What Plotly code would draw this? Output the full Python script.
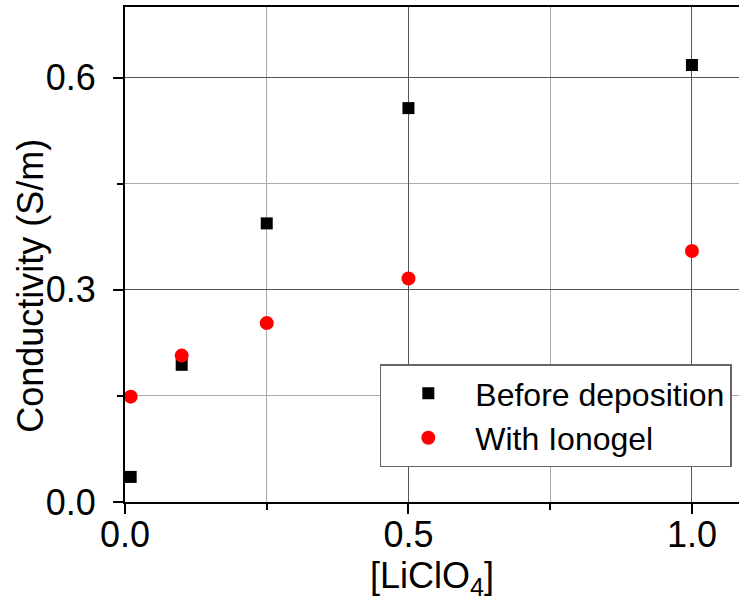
import plotly.graph_objects as go

x_conc = [0.01, 0.1, 0.25, 0.5, 1.0]
before_deposition = [0.0355, 0.194, 0.394, 0.557, 0.618]
with_ionogel = [0.149, 0.207, 0.253, 0.316, 0.355]

x_title = "[LiClO<sub>4</sub>]"
y_title = "Conductivity (S/m)"
names = ["Before deposition", "With Ionogel"]

FONT = "Liberation Sans, Arial, sans-serif"

fig = go.Figure()
fig.add_trace(go.Scatter(x=x_conc, y=before_deposition, mode="markers", name=names[0],
                         marker=dict(symbol="square", size=12, color="black", line=dict(width=0))))
fig.add_trace(go.Scatter(x=x_conc, y=with_ionogel, mode="markers", name=names[1],
                         marker=dict(symbol="circle", size=14, color="#ff0000", line=dict(width=0))))

fig.update_layout(
    width=739, height=612,
    margin=dict(l=125, r=0, t=7, b=110, autoexpand=False),
    plot_bgcolor="white", paper_bgcolor="white",
    font=dict(family=FONT, size=36, color="black"),
    showlegend=True,
    legend=dict(x=0.415, y=0.278, xanchor="left", yanchor="top",
                bgcolor="white", bordercolor="#666666", borderwidth=1.5,
                font=dict(size=32, family=FONT, color="black"),
                itemwidth=84, tracegroupgap=0),
    xaxis=dict(range=[0, 1.083], tick0=0, dtick=0.5, tickformat=".1f", automargin=False,
               showline=True, linecolor="black", linewidth=2, mirror=True,
               ticks="outside", ticklen=10, tickwidth=1.5, tickcolor="black",
               showgrid=True, gridcolor="#555555", gridwidth=1, zeroline=False,
               tickfont=dict(size=36), ticklabelstandoff=-10,
               title=dict(text=x_title, font=dict(size=36), standoff=4),
               minor=dict(dtick=0.25, tick0=0, ticks="outside", ticklen=6, tickcolor="black",
                          showgrid=True, gridcolor="#aaaaaa", gridwidth=1)),
    yaxis=dict(range=[0, 0.7], tick0=0, dtick=0.3, tickformat=".1f", automargin=False,
               showline=True, linecolor="black", linewidth=2, mirror=False,
               ticks="outside", ticklen=10, tickwidth=1.5, tickcolor="black",
               showgrid=True, gridcolor="#555555", gridwidth=1, zeroline=False,
               tickfont=dict(size=36), ticksuffix="\u00a0",
               minor=dict(dtick=0.15, tick0=0, ticks="outside", ticklen=6, tickcolor="black",
                          showgrid=True, gridcolor="#aaaaaa", gridwidth=1)),
    annotations=[dict(text=y_title, xref="paper", yref="paper", x=-0.153, y=0.437,
                      xanchor="center", yanchor="middle", textangle=-90, showarrow=False,
                      font=dict(size=36, family=FONT, color="black"))],
)

fig.write_html("out.html", config={"displayModeBar": False},
               post_script="document.body.style.margin='0';document.body.style.overflow='hidden';")
